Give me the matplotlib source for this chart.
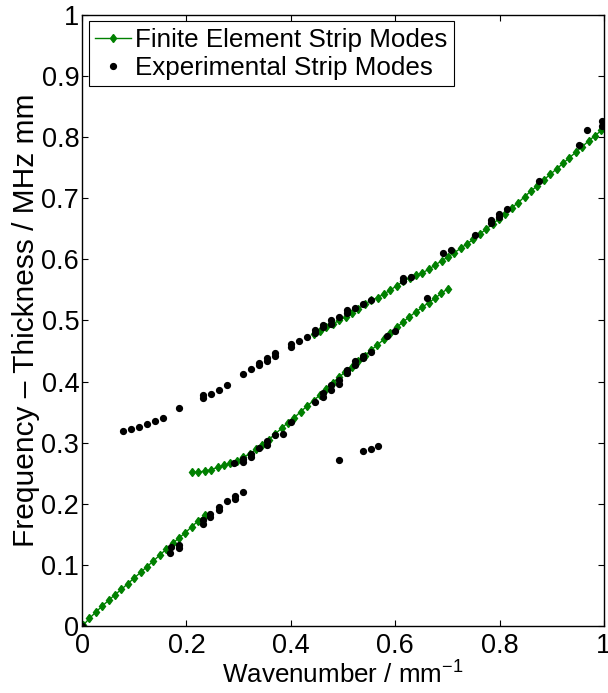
import matplotlib
matplotlib.use("Agg")
import matplotlib.pyplot as plt

plt.rcParams['font.family'] = ['Liberation Sans', 'DejaVu Sans']
plt.rcParams['mathtext.default'] = 'regular'

# finite element strip modes (three branches)
fe_k_low = [0.0020, 0.0143, 0.0265, 0.0388, 0.0510, 0.0633, 0.0755, 0.0878, 0.1000, 0.1123,
            0.1245, 0.1368, 0.1490, 0.1613, 0.1735, 0.1858, 0.1980, 0.2103, 0.2225, 0.2348]
fe_f_low = [0.0010, 0.0125, 0.0229, 0.0327, 0.0420, 0.0513, 0.0600, 0.0693, 0.0786, 0.0878,
            0.0971, 0.1064, 0.1162, 0.1255, 0.1353, 0.1440, 0.1527, 0.1626, 0.1720, 0.1810]

fe_k_mid = [0.2107, 0.2230, 0.2352, 0.2475, 0.2597, 0.2720, 0.2842, 0.2965, 0.3087, 0.3210,
            0.3332, 0.3455, 0.3577, 0.3700, 0.3822, 0.3945, 0.4067, 0.4190, 0.4312, 0.4435,
            0.4557, 0.4680, 0.4802, 0.4925, 0.5047, 0.5170, 0.5292, 0.5415, 0.5537, 0.5660,
            0.5782, 0.5905, 0.6027, 0.6150, 0.6272, 0.6395, 0.6517, 0.6640, 0.6762, 0.6885,
            0.7007]
fe_f_mid = [0.2515, 0.2520, 0.2535, 0.2560, 0.2595, 0.2630, 0.2662, 0.2705, 0.2760, 0.2815,
            0.2890, 0.2968, 0.3050, 0.3142, 0.3235, 0.3328, 0.3410, 0.3508, 0.3600, 0.3688,
            0.3780, 0.3879, 0.3982, 0.4070, 0.4163, 0.4244, 0.4337, 0.4419, 0.4517, 0.4599,
            0.4692, 0.4790, 0.4888, 0.4975, 0.5060, 0.5140, 0.5215, 0.5292, 0.5363, 0.5445,
            0.5521]

fe_k_up = [0.4438, 0.4560, 0.4683, 0.4805, 0.4928, 0.5050, 0.5173, 0.5295, 0.5418, 0.5540,
           0.5663, 0.5785, 0.5908, 0.6030, 0.6153, 0.6275, 0.6398, 0.6520, 0.6643, 0.6765,
           0.6888, 0.7010, 0.7133, 0.7255, 0.7378, 0.7500, 0.7623, 0.7745, 0.7868, 0.7990,
           0.8113, 0.8235, 0.8358, 0.8480, 0.8603, 0.8725, 0.8848, 0.8970, 0.9093, 0.9215,
           0.9338, 0.9460, 0.9583, 0.9705, 0.9828, 0.9950]
fe_f_up = [0.4775, 0.4830, 0.4890, 0.4945, 0.5000, 0.5060, 0.5125, 0.5190, 0.5270, 0.5330,
           0.5375, 0.5432, 0.5499, 0.5568, 0.5640, 0.5700, 0.5740, 0.5780, 0.5837, 0.5908,
           0.5974, 0.6039, 0.6110, 0.6181, 0.6257, 0.6328, 0.6416, 0.6497, 0.6579, 0.6667,
           0.6743, 0.6847, 0.6929, 0.7027, 0.7120, 0.7207, 0.7300, 0.7392, 0.7480, 0.7572,
           0.7665, 0.7753, 0.7845, 0.7938, 0.8025, 0.8110]

# experimental strip modes
exp_k = [0.000,
         0.078, 0.093, 0.109, 0.125, 0.140, 0.155, 0.186, 0.232, 0.232, 0.247,
         0.263, 0.278, 0.308, 0.324, 0.339, 0.339, 0.354, 0.354, 0.370, 0.370,
         0.400, 0.400, 0.416, 0.431, 0.446, 0.446, 0.462, 0.462, 0.477, 0.477,
         0.492, 0.508, 0.508, 0.523, 0.539, 0.554,
         0.614, 0.614, 0.630, 0.691, 0.706, 0.752, 0.783, 0.783, 0.798, 0.798,
         0.814, 0.875, 0.952, 0.967, 0.997, 0.997,
         0.169, 0.171, 0.185, 0.185, 0.231, 0.231, 0.246, 0.246, 0.262, 0.262,
         0.278, 0.294, 0.294, 0.308,
         0.292, 0.308, 0.308, 0.324, 0.324, 0.339, 0.354, 0.354, 0.370, 0.385,
         0.400, 0.446, 0.461, 0.461, 0.477, 0.477, 0.492, 0.492, 0.508, 0.508,
         0.523, 0.523, 0.538, 0.538, 0.554, 0.584, 0.600, 0.660,
         0.492, 0.538, 0.553, 0.568]
exp_f = [0.000,
         0.319, 0.322, 0.326, 0.331, 0.336, 0.341, 0.356, 0.373, 0.378, 0.380,
         0.386, 0.395, 0.412, 0.420, 0.427, 0.431, 0.434, 0.438, 0.442, 0.446,
         0.457, 0.461, 0.467, 0.473, 0.479, 0.485, 0.489, 0.493, 0.495, 0.500,
         0.506, 0.512, 0.517, 0.521, 0.527, 0.533,
         0.564, 0.569, 0.571, 0.610, 0.615, 0.640, 0.660, 0.665, 0.669, 0.675,
         0.683, 0.729, 0.787, 0.811, 0.819, 0.827,
         0.119, 0.129, 0.127, 0.133, 0.167, 0.174, 0.179, 0.184, 0.190, 0.195,
         0.204, 0.208, 0.213, 0.220,
         0.267, 0.269, 0.273, 0.277, 0.282, 0.291, 0.296, 0.303, 0.312, 0.315,
         0.334, 0.366, 0.375, 0.381, 0.386, 0.394, 0.396, 0.403, 0.414, 0.419,
         0.427, 0.433, 0.438, 0.442, 0.449, 0.475, 0.483, 0.536,
         0.271, 0.286, 0.289, 0.294]

green = '#008000'

fig = plt.figure(figsize=(6.08, 6.93), dpi=100)
ax = fig.add_axes([0.1349, 0.0967, 0.8585, 0.8817])

fe_style = dict(color=green, lw=1.0, marker='d', ms=4.5, mfc=green, mec=green)
ax.plot(fe_k_low, fe_f_low, label='Finite Element Strip Modes', **fe_style)
ax.plot(fe_k_mid, fe_f_mid, **fe_style)
ax.plot(fe_k_up, fe_f_up, **fe_style)
ax.plot(exp_k, exp_f, ls='none', marker='o', ms=4.2, color='black',
        label='Experimental Strip Modes')

ax.set_xlim(0, 1)
ax.set_ylim(0, 1)
ax.set_xticks([0, 0.2, 0.4, 0.6, 0.8, 1])
ax.set_xticklabels(['0', '0.2', '0.4', '0.6', '0.8', '1'])
ax.set_yticks([0, 0.1, 0.2, 0.3, 0.4, 0.5, 0.6, 0.7, 0.8, 0.9, 1])
ax.set_yticklabels(['0', '0.1', '0.2', '0.3', '0.4', '0.5', '0.6', '0.7', '0.8', '0.9', '1'])
ax.tick_params(direction='in', length=4.5, width=0.8, labelsize=19.5,
               top=True, right=True)
ax.tick_params(axis='x', pad=5)
ax.tick_params(axis='y', pad=2)
for sp in ax.spines.values():
    sp.set_linewidth(1.0)

ax.set_xlabel('Wavenumber / mm$^{-1}$', fontsize=18.7, labelpad=2)
ax.set_ylabel('Frequency \u2013 Thickness / MHz mm', fontsize=21.5, labelpad=1)

leg = ax.legend(loc='upper left', fontsize=18.7, fancybox=False, framealpha=1,
                edgecolor='black', borderaxespad=0.25, handlelength=1.4,
                handletextpad=0.15, borderpad=0.25, labelspacing=0.15)
leg.get_frame().set_linewidth(0.8)

fig.savefig('out.png', dpi=100)
